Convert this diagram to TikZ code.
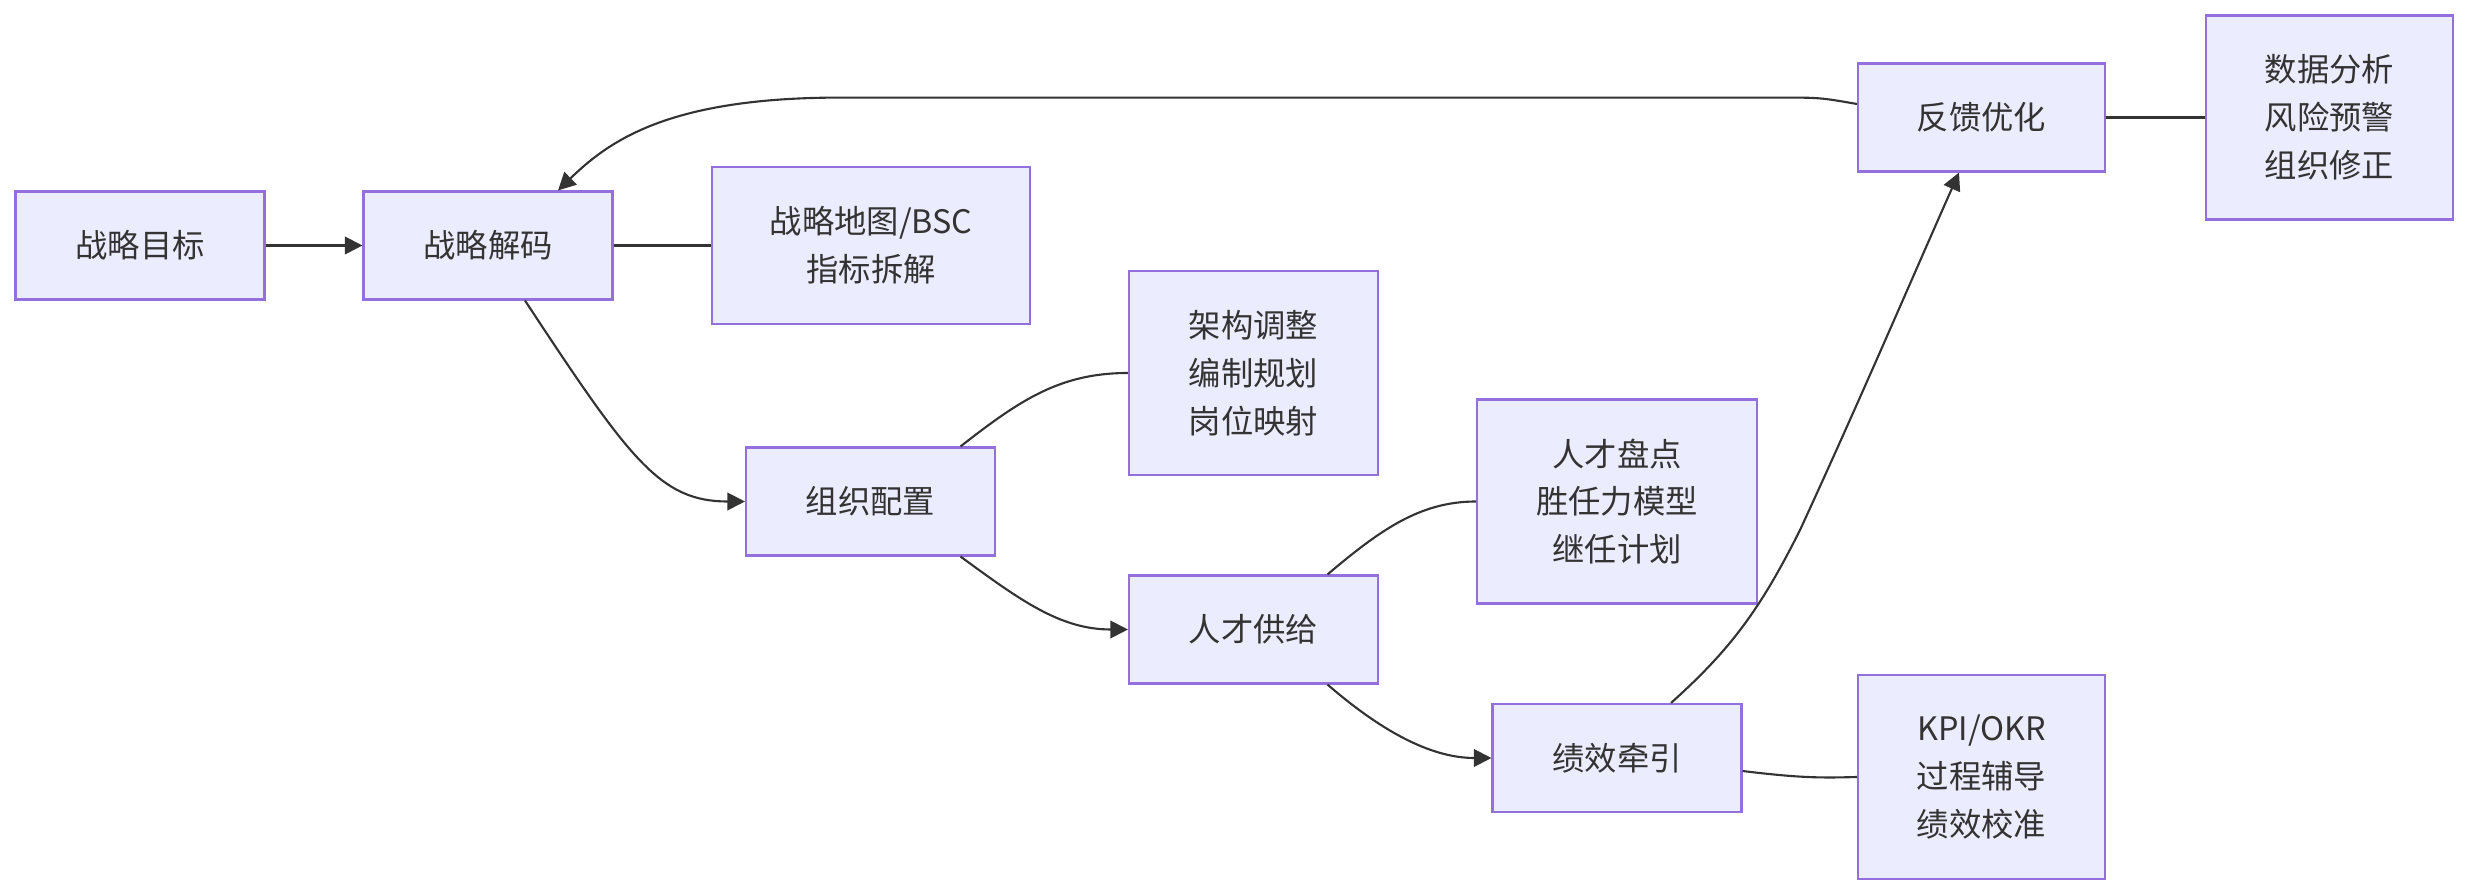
\documentclass[tikz,border=0pt]{standalone}
\usepackage{fontspec}
\newfontfamily\cjk{Noto Sans CJK SC}
\usetikzlibrary{arrows.meta}
\definecolor{boxfill}{HTML}{ECECFF}
\definecolor{boxline}{HTML}{9370DB}
\definecolor{linkcol}{HTML}{333333}

\begin{document}
\begin{tikzpicture}[>={Stealth[inset=0pt,length=5pt,width=5pt]},
    box/.style={draw=boxline, fill=boxfill, line width=0.6pt, inner sep=0pt, align=center,
      minimum width=2.49cm, minimum height=1.08cm, text=linkcol,
      font=\cjk\fontsize{9.2}{13.6}\selectfont},
    tallbox/.style={box, minimum height=2.04cm},
    link/.style={draw=linkcol, line width=0.6pt}]
  \useasboundingbox (0,0) rectangle (24.69,-8.96);

  % main chain
  \node[box] (goal) at (1.40,-2.455) {战略目标};
  \node[box] (decode) at (4.88,-2.455) {战略解码};
  \node[box, minimum width=3.18cm, minimum height=1.57cm] (bsc) at (8.71,-2.455) {战略地图/BSC\\指标拆解};
  \node[box] (org) at (8.705,-5.015) {组织配置};
  \node[tallbox] (arch) at (12.535,-3.73) {架构调整\\编制规划\\岗位映射};
  \node[box] (supply) at (12.535,-6.295) {人才供给};
  \node[tallbox, minimum width=2.80cm] (review) at (16.17,-5.015) {人才盘点\\胜任力模型\\继任计划};
  \node[box] (perf) at (16.17,-7.58) {绩效牵引};
  \node[tallbox, minimum width=2.47cm] (kpi) at (19.815,-7.77) {KPI/OKR\\过程辅导\\绩效校准};
  \node[box, minimum width=2.47cm] (feedback) at (19.815,-1.175) {反馈优化};
  \node[tallbox, minimum width=2.47cm] (data) at (23.295,-1.175) {数据分析\\风险预警\\组织修正};

  \draw[link,->] (goal) -- (decode);
  \draw[link] (decode) -- (bsc);
  \draw[link,->] ([xshift=0.37cm]decode.south) .. controls (6.3,-4.6) and (6.6,-5.015) .. (org.west);
  \draw[link] ([xshift=0.90cm]org.north) .. controls (10.2,-4.0) and (10.6,-3.73) .. (arch.west);
  \draw[link,->] ([xshift=0.90cm]org.south) .. controls (10.2,-6.0) and (10.6,-6.295) .. (supply.west);
  \draw[link] ([xshift=0.74cm]supply.north) .. controls (13.8,-5.3) and (14.2,-5.015) .. (review.west);
  \draw[link,->] ([xshift=0.74cm]supply.south) .. controls (13.8,-7.3) and (14.3,-7.58) .. (perf.west);
  \draw[link] ([yshift=-0.13cm]perf.east) .. controls (18.0,-7.78) and (18.2,-7.78) .. (kpi.west);

  % feedback loop
  \draw[link,->] ([xshift=0.54cm]perf.north) .. controls (17.3,-6.5) and (17.6,-6.1) .. (18.0,-5.3)
    .. controls (18.6,-4.0) and (19.2,-2.6) .. ([xshift=-0.225cm]feedback.south);
  \draw[link,->] ([yshift=0.135cm]feedback.west) .. controls (18.2,-0.976) .. (17.8,-0.976) -- (8.4,-0.976)
    .. controls (6.7,-0.976) and (6.1,-1.4) .. ([xshift=0.70cm]decode.north);
  \draw[link] (feedback) -- (data);
\end{tikzpicture}
\end{document}
